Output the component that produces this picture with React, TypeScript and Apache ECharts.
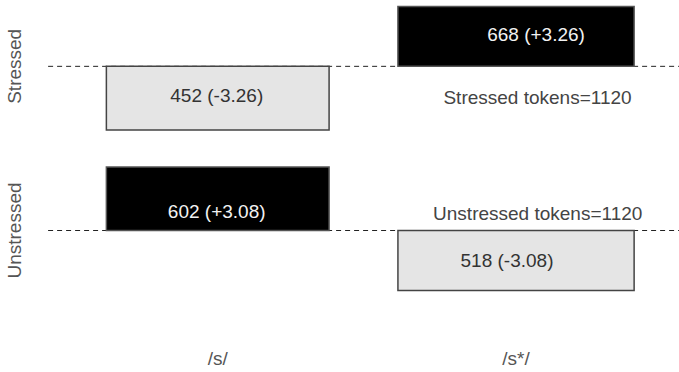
import React, { useEffect, useRef } from "react";
import * as echarts from "echarts";

// ---- data ----
const columns = ["/s/", "/s*/"];
const rows = ["Stressed", "Unstressed"];
const stressedCounts = [452, 668];
const unstressedCounts = [602, 518];
const stressedResLabels = ["-3.26", "+3.26"];
const unstressedResLabels = ["+3.08", "-3.08"];
// bar heights: Pearson residuals as drawn
const stressedResiduals = [-3.27, 3.08];
const unstressedResiduals = [3.27, -3.08];
// bar widths: square root of the expected counts
const columnWidths = [22.96, 24.35];
const rowTotals = [1120, 1120];

// ---- layout (assocplot style) ----
const SPACE = 0.3;
const FONT = "'Liberation Sans', Arial, Helvetica, sans-serif";
const FS = 19;
const PX_X = 9.7; // pixels per x unit
const X0 = 71.96; // pixel of x = 0
const PX_Y = 19.44; // pixels per y unit
const Y0 = 308.9; // pixel of y = 0
const W = 679;
const H = 372;

// label offsets in pixels from the bar centre: [row][col]
const labelOffsets = [
  [[-1, -3], [20, -1.5]],
  [[-1, 13], [-9, 0]],
];
// token text offsets from right column centre / baseline
const tokenOffsets = [[21.5, 31.2], [21.7, -17.2]];

function layout() {
  const n = columnWidths.length;
  const meanW = columnWidths.reduce((a, b) => a + b, 0) / n;
  const xDelta = meanW * SPACE;
  const xrMax = columnWidths.reduce((a, b) => a + b, 0) + n * xDelta;
  const xr: number[] = [];
  let acc = 0;
  columnWidths.forEach((w) => {
    acc += w + xDelta;
    xr.push(acc);
  });
  const xm = xr.map((v, i) => ((i === 0 ? 0 : xr[i - 1]) + v) / 2);

  const resid = [stressedResiduals, unstressedResiduals];
  // bottom-up order: Unstressed, Stressed
  const order = [1, 0];
  const yh = order.map((r) => Math.max(...resid[r]) - Math.min(...resid[r]));
  const yDelta = (yh.reduce((a, b) => a + b, 0) / yh.length) * SPACE;
  const ym: number[] = [0, 0];
  let yacc = 0;
  order.forEach((r, k) => {
    yacc += yh[k] + yDelta;
    ym[r] = yacc - Math.max(0, ...resid[r]) - yDelta / 2;
  });
  return { xm, ym, usrLeft: -0.04 * xrMax, resid };
}

export default function App() {
  const ref = useRef<HTMLDivElement>(null);
  useEffect(() => {
    const chart = echarts.init(ref.current!, null, { renderer: "svg" });
    const { xm, ym, usrLeft, resid } = layout();
    const xMin = -X0 / PX_X;
    const xMax = xMin + W / PX_X;
    const yMax = Y0 / PX_Y;
    const yMin = yMax - H / PX_Y;
    const counts = [stressedCounts, unstressedCounts];
    const resLabels = [stressedResLabels, unstressedResLabels];

    const barData: number[][] = [];
    rows.forEach((_, r) => {
      columns.forEach((__, c) => {
        barData.push([xm[c], ym[r], resid[r][c], columnWidths[c], c, r]);
      });
    });

    const option: any = {
      animation: false,
      backgroundColor: "#ffffff",
      grid: { left: 0, right: 0, top: 0, bottom: 0 },
      xAxis: { type: "value", min: xMin, max: xMax, show: false },
      yAxis: { type: "value", min: yMin, max: yMax, show: false },
      series: [
        {
          type: "custom",
          name: "baselines",
          clip: false,
          data: rows.map((_, r) => [usrLeft, ym[r], r]),
          renderItem: (params: any, api: any) => {
            const a = api.coord([api.value(0), api.value(1)]);
            const b = api.coord([xMax, api.value(1)]);
            const r = api.value(2);
            return {
              type: "group",
              children: [
                {
                  type: "line",
                  shape: { x1: a[0], y1: a[1], x2: b[0], y2: b[1] },
                  style: { stroke: "#222", lineWidth: 1, lineDash: [5, 4] },
                },
                {
                  type: "text",
                  x: 14,
                  y: a[1],
                  rotation: Math.PI / 2,
                  style: {
                    text: rows[r],
                    fill: "#555",
                    font: `${FS}px ${FONT}`,
                    align: "center",
                    verticalAlign: "middle",
                  },
                },
              ],
            };
          },
        },
        {
          type: "custom",
          name: "bars",
          clip: false,
          data: barData,
          renderItem: (params: any, api: any) => {
            const x = api.value(0);
            const y = api.value(1);
            const d = api.value(2);
            const w = api.value(3);
            const c = api.value(4);
            const r = api.value(5);
            const p1 = api.coord([x - w / 2, y]);
            const p2 = api.coord([x + w / 2, y + d]);
            const rx = Math.min(p1[0], p2[0]);
            const ry = Math.min(p1[1], p2[1]);
            const rw = Math.abs(p2[0] - p1[0]);
            const rh = Math.abs(p2[1] - p1[1]);
            const dark = d > 0;
            const off = labelOffsets[r][c];
            return {
              type: "group",
              children: [
                {
                  type: "rect",
                  shape: { x: rx, y: ry, width: rw, height: rh },
                  style: {
                    fill: dark ? "#000000" : "#e5e5e5",
                    stroke: dark ? "#555" : "#444",
                    lineWidth: 1.5,
                  },
                },
                {
                  type: "text",
                  x: rx + rw / 2 + off[0],
                  y: ry + rh / 2 + off[1],
                  style: {
                    text: `${counts[r][c]} (${resLabels[r][c]})`,
                    fill: dark ? "#f2f2f2" : "#333",
                    font: `${FS}px ${FONT}`,
                    align: "center",
                    verticalAlign: "middle",
                  },
                },
              ],
            };
          },
        },
        {
          type: "custom",
          name: "texts",
          clip: false,
          data: rows.map((_, r) => [xm[1], ym[r], r]),
          renderItem: (params: any, api: any) => {
            const p = api.coord([api.value(0), api.value(1)]);
            const r = api.value(2);
            const off = tokenOffsets[r];
            return {
              type: "text",
              x: p[0] + off[0],
              y: p[1] + off[1],
              style: {
                text: `${rows[r]} tokens=${rowTotals[r]}`,
                fill: "#444",
                font: `${FS}px ${FONT}`,
                align: "center",
                verticalAlign: "middle",
              },
            };
          },
        },
        {
          type: "custom",
          name: "axis",
          clip: false,
          data: columns.map((_, c) => [xm[c], yMin, c]),
          renderItem: (params: any, api: any) => {
            const p = api.coord([api.value(0), api.value(1)]);
            const c = api.value(2);
            return {
              type: "text",
              x: p[0],
              y: p[1] - 14,
              style: {
                text: columns[c],
                fill: "#555",
                font: `${FS}px ${FONT}`,
                align: "center",
                verticalAlign: "middle",
              },
            };
          },
        },
      ],
    };
    chart.setOption(option);
    return () => chart.dispose();
  }, []);
  return (
    <div
      ref={ref}
      style={{ position: "fixed", left: 0, top: 0, width: W, height: H, background: "#fff" }}
    />
  );
}
